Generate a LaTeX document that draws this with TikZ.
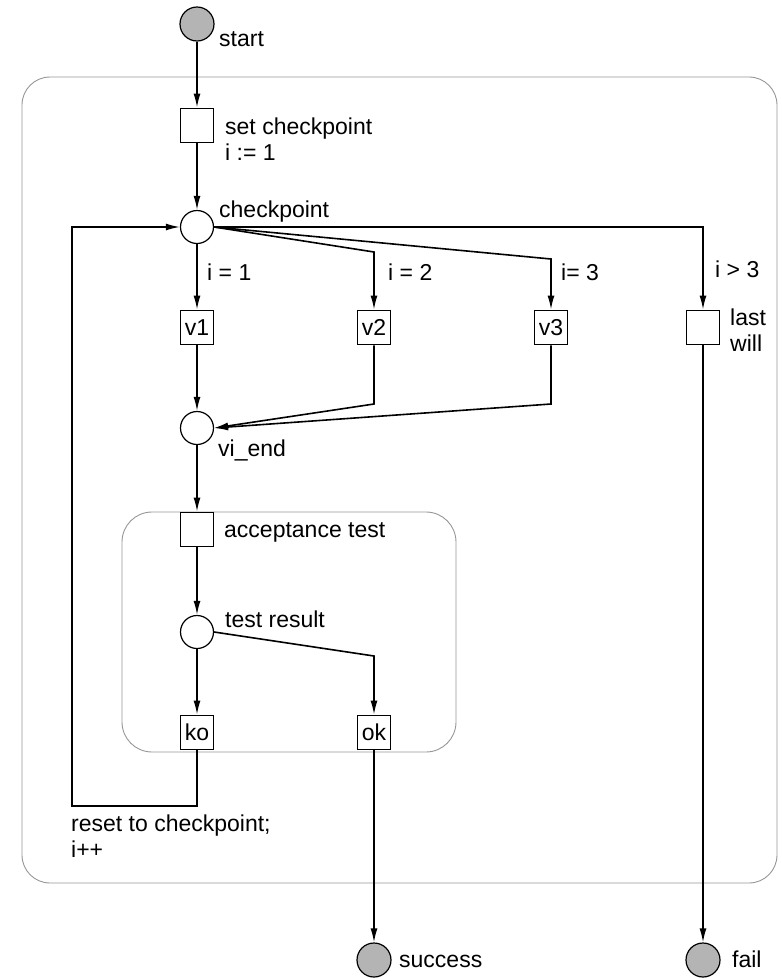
\documentclass[tikz,border=0pt]{standalone}
\usepackage{fontspec}
\setmainfont{Liberation Sans}
\usepackage{tikz}
\usetikzlibrary{arrows.meta,calc}
\definecolor{termgray}{RGB}{180,180,180}
\definecolor{framegray}{RGB}{150,150,150}

\begin{document}
\begin{tikzpicture}[x=1pt,y=-1pt,font=\fontsize{23}{26}\selectfont,>=Latex]
\tikzset{
  term/.style={circle,draw=black,line width=1.2pt,fill=termgray,minimum size=34pt,inner sep=0pt},
  place/.style={circle,draw=black,line width=1.2pt,fill=white,minimum size=33pt,inner sep=0pt},
  trans/.style={draw=black,line width=1.8pt,fill=white,minimum width=33pt,minimum height=34pt,inner sep=0pt},
  lbl/.style={anchor=base west,inner sep=0pt,align=left},
  arr/.style={-{Latex[length=14pt,width=7pt]},line width=1.6pt,draw=black},
  frame/.style={draw=framegray,line width=0.9pt}
}
\useasboundingbox (0,0) rectangle (782,978);

% frames
\draw[frame,rounded corners=28pt] (22,77) rectangle (777,883);
\draw[frame,rounded corners=30pt] (122,512) rectangle (456,752);

% start and checkpoint
\node[term] (start) at (197,24) {};
\node[lbl] (startlbl) at (219,46) {start};
\node[trans] (setcp) at (197,125.5) {};
\node[lbl] (setcplbl) at (225,160) {set checkpoint\\i := 1};
\node[place] (cp) at (197,227) {};
\node[lbl] (cplbl) at (219,217) {checkpoint};

% versions
\node[trans] (v1) at (197,327.5) {v1};
\node[trans] (v2) at (374,327.5) {v2};
\node[trans] (v3) at (551,327.5) {v3};
\node[trans] (last) at (703,327.5) {};
\node[lbl] (lastlbl) at (730,351) {last\\will};
\node[lbl] (g1) at (207,280) {i = 1};
\node[lbl] (g2) at (388,280) {i = 2};
\node[lbl] (g3) at (561,280) {i= 3};
\node[lbl] (g4) at (715,277) {i > 3};

\coordinate (b2) at (374,252);
\coordinate (b3) at (551,259);
\draw[arr] (start) -- (setcp);
\draw[arr] (setcp) -- (cp);
\draw[arr] (cp) -- (v1);
\draw[arr] (cp.east) -- (b2) -- (v2.north);
\draw[arr] (cp.east) -- (b3) -- (v3.north);
\draw[arr] (cp.east) -| (last.north);

% join
\node[place] (viend) at (197,428) {};
\node[lbl] (viendlbl) at (218,456) {vi\_end};
\coordinate (e2) at (374,404);
\coordinate (e3) at (551,404);
\draw[arr] (v1) -- (viend);
\draw[arr] (v2.south) -- (e2) -- (viend.east);
\draw[arr] (v3.south) -- (e3) -- (viend.east);

% acceptance test
\node[trans] (acc) at (197,529.5) {};
\node[lbl] (acclbl) at (224,537) {acceptance test};
\node[place] (res) at (197,632) {};
\node[lbl] (reslbl) at (225,627) {test result};
\node[trans] (ko) at (197,732.5) {ko};
\node[trans] (ok) at (374,732.5) {ok};
\coordinate (b5) at (374,656);
\draw[arr] (viend) -- (acc);
\draw[arr] (acc) -- (res);
\draw[arr] (res) -- (ko);
\draw[arr] (res.east) -- (b5) -- (ok.north);

% retry loop
\coordinate (loop) at (72,806);
\draw[arr] (ko.south) |- (loop) |- (cp.west);
\node[lbl] (looplbl) at (71,857) {reset to checkpoint;\\i++};

% ends
\node[term] (succ) at (374,960) {};
\node[lbl] (succlbl) at (399,967) {success};
\node[term] (fail) at (703,960) {};
\node[lbl] (faillbl) at (732,967) {fail};
\draw[arr] (ok) -- (succ);
\draw[arr] (last) -- (fail);
\end{tikzpicture}
\end{document}
